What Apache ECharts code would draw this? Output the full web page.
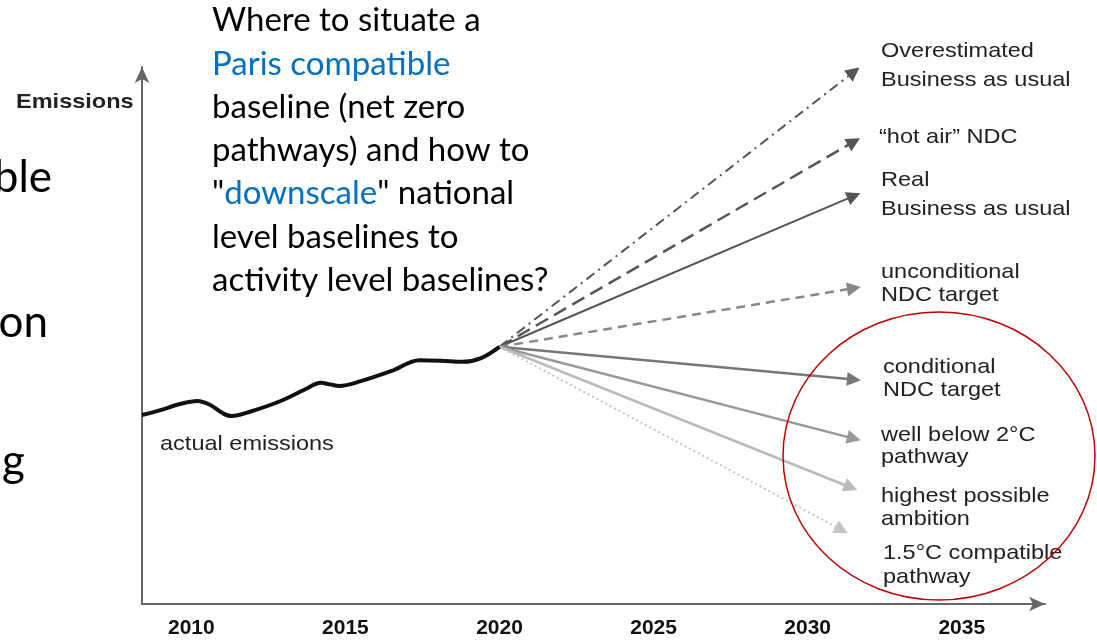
<!DOCTYPE html>
<html>
<head>
<meta charset="utf-8">
<script src="https://cdn.jsdelivr.net/npm/echarts@6/dist/echarts.min.js"></script>
<style>
html,body{margin:0;padding:0;background:#fff;}
#chart{width:1097px;height:641px;}
</style>
</head>
<body>
<div id="chart"></div>
<script>
// ---- data ----
const tickYears = [2010, 2015, 2020, 2025, 2030, 2035];
const actualYears = [2008.4, 2009.0, 2009.6, 2010.2, 2010.6, 2011.0, 2011.3, 2011.9, 2012.9, 2013.7, 2014.2, 2014.5, 2014.8, 2015.5, 2016.5, 2017.4, 2018.1, 2018.8, 2019.4, 2020.0];
const actualValues = [35.2, 36.1, 37.2, 37.8, 37.1, 35.6, 35.0, 35.8, 37.8, 40.0, 41.2, 40.9, 40.6, 41.5, 43.4, 45.4, 45.3, 45.1, 45.8, 47.9];
const scenarioNames = ['Overestimated\nBusiness as usual', '“hot air” NDC', 'Real\nBusiness as usual', 'unconditional\nNDC target', 'conditional\nNDC target', 'well below 2°C\npathway', 'highest possible\nambition', '1.5°C compatible\npathway'];
const scenarioStartYear = 2020.0;
const scenarioStartValue = 47.9;
const scenarioEndYears = [2031.5, 2031.5, 2031.5, 2031.5, 2031.5, 2031.5, 2031.4, 2031.1];
const scenarioEndValues = [99.1, 86.1, 76.0, 58.8, 41.8, 30.8, 21.7, 13.8];

// ---- styles ----
const scenarioStyles = [
  {color:'#555', width:2, type:[10,5,2,5]},
  {color:'#555', width:2.5, type:[14,7]},
  {color:'#555', width:2, type:'solid'},
  {color:'#888', width:2.5, type:[9,6]},
  {color:'#777', width:2.5, type:'solid'},
  {color:'#999', width:2.5, type:'solid'},
  {color:'#bbb', width:2.5, type:'solid'},
  {color:'#c4c4c4', width:2, type:[2,3]}
];
const labelPos = [[881,66,29],[879,137,29],[881,195,29],[881,284,23],[883,379,23],[881,446,22],[881,508,23],[883,565,24]];

const chart = echarts.init(document.getElementById('chart'));
const ARIAL = '"Liberation Sans", Arial, sans-serif';
const SX = 1.12;

const lineData = scenarioNames.map((n, i) => ({
  name: n,
  coords: [[scenarioStartYear, scenarioStartValue], [scenarioEndYears[i], scenarioEndValues[i]]],
  lineStyle: {color: scenarioStyles[i].color, width: scenarioStyles[i].width, type: scenarioStyles[i].type, opacity: 1},
  symbol: ['none', 'triangle'],
  symbolSize: [1, 14],
  itemStyle: {color: scenarioStyles[i].color}
}));

const graphics = [];
// big question text
graphics.push({
  type: 'text', x: 212, y: -1, z: 10,
  style: {
    text: 'Where to situate a\n{b|Paris compatible}\nbaseline (net zero\npathways) and how to\n"{b|downscale}" national\nlevel baselines to\nactivity level baselines?',
    font: '33px Lato, "Open Sans", sans-serif',
    fill: '#000', lineHeight: 43.3,
    rich: {b: {fill: '#0070C0', font: '33px Lato, "Open Sans", sans-serif', lineHeight: 43.3}}
  }
});
// left cut-off fragments
[['ble', 52, 200], ['on', 48, 345], ['g', 25, 484]].forEach(f => {
  graphics.push({type:'text', x:f[1], y:f[2], z:10, style:{text:f[0], font:'44px Lato, "Open Sans", sans-serif', fill:'#000', align:'right', verticalAlign:'bottom'}});
});
// Emissions label
graphics.push({type:'text', x:16, y:102, scaleX:SX, z:10, style:{text:'Emissions', font:'bold 21px ' + ARIAL, fill:'#222', verticalAlign:'middle'}});
// actual emissions label
graphics.push({type:'text', x:160, y:444, scaleX:SX, z:10, style:{text:'actual emissions', font:'21px ' + ARIAL, fill:'#222', verticalAlign:'middle'}});
// scenario labels
scenarioNames.forEach((n, i) => {
  graphics.push({type:'text', x:labelPos[i][0], y:labelPos[i][1], scaleX:SX, z:10,
    style:{text:n, font:'21px ' + ARIAL, fill:'#222', verticalAlign:'middle', lineHeight:labelPos[i][2]}});
});
// red ellipse
graphics.push({type:'ellipse', z:11, shape:{cx:939, cy:456, rx:156, ry:144}, style:{fill:'none', stroke:'#C00000', lineWidth:1.5}});

chart.setOption({
  animation: false,
  backgroundColor: '#fff',
  grid: {left:142, right:52, top:67, bottom:37, containLabel:false},
  xAxis: {
    type:'value', min:2008.4, max:2037.7,
    axisLine: {show:true, onZero:false, symbol:['none','arrow'], symbolSize:[11,16], lineStyle:{color:'#666', width:2}},
    axisTick: {show:false},
    splitLine: {show:false},
    axisLabel: {customValues: tickYears, formatter: v => String(Math.round(v)), margin: 14,
      fontFamily:'"Liberation Sans Narrow", "Arial Narrow", "Liberation Sans", sans-serif', fontWeight:'bold', fontSize:21, color:'#111'}
  },
  yAxis: {
    type:'value', min:0, max:100,
    axisLine: {show:true, onZero:false, symbol:['none','arrow'], symbolSize:[11,16], lineStyle:{color:'#666', width:2}},
    axisTick: {show:false}, axisLabel: {show:false}, splitLine: {show:false}
  },
  series: [
    {
      type:'line', name:'actual emissions',
      data: actualYears.map((y, i) => [y, actualValues[i]]),
      smooth: 0.35, showSymbol:false, symbol:'none',
      lineStyle: {color:'#111', width:4}, z:5
    },
    {
      type:'lines', coordinateSystem:'cartesian2d', polyline:false,
      data: lineData, z:4
    }
  ],
  graphic: graphics
});
</script>
</body>
</html>
